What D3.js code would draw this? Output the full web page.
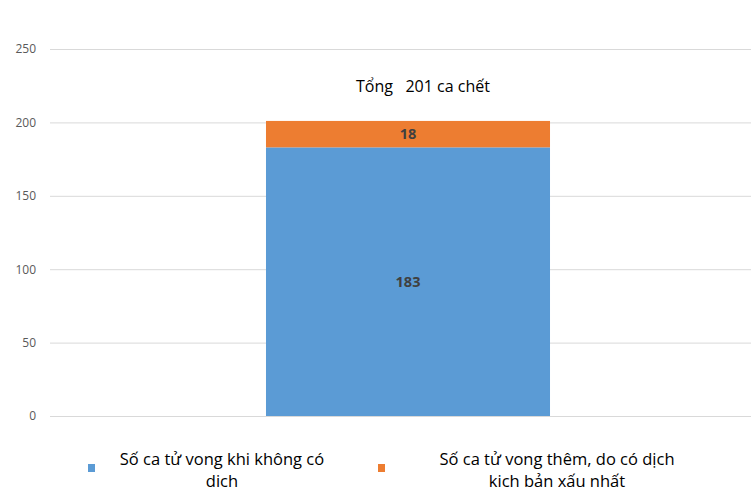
<!DOCTYPE html>
<html>
<head>
<meta charset="utf-8">
<script src="https://cdn.jsdelivr.net/npm/d3@7"></script>
<style>
  body { margin: 0; background: #fff; }
  svg text { font-family: "Open Sans", "Noto Sans", sans-serif; }
</style>
</head>
<body>
<div id="svg_div"></div>
<script>
// Chart data
var categories = ["Tổng"];
var baseDeaths = [183];
var extraDeaths = [18];
var yTicks = [0, 50, 100, 150, 200, 250];
var seriesNames = [["Số ca tử vong khi không có", "dich"], ["Số ca tử vong thêm, do có dịch", "kich bản xấu nhất"]];
var colors = ["#5B9BD5", "#ED7D31"];

var svg = d3.select("#svg_div").append("svg").attr("width", 751).attr("height", 491);

// Scales
var yScale = d3.scaleLinear().domain([0, 250]).range([416, 49]);
var xScale = d3.scaleBand().domain(categories).range([65, 751]).padding(0.4144);

// Gridlines and tick labels
var yAxis = d3.axisLeft(yScale).tickValues(yTicks).tickSize(-701).tickPadding(14);
var yAxisG = svg.append("g").attr("transform", "translate(50,0)").call(yAxis);
yAxisG.select(".domain").remove();
yAxisG.selectAll("line").attr("stroke", "#d9d9d9");
yAxisG.selectAll("text").attr("fill", "#595959").style("font-size", "12px");

// Stack the two series
var rows = categories.map(function(c, i) { return {cat: c, base: baseDeaths[i], extra: extraDeaths[i]}; });
var stack = d3.stack().keys(["base", "extra"])(rows);

var layers = svg.selectAll(".layer").data(stack).enter().append("g")
    .attr("fill", function(d, i) { return colors[i]; });

layers.selectAll("rect").data(function(d) { return d; }).enter().append("rect")
    .attr("x", function(d) { return xScale(d.data.cat); })
    .attr("width", xScale.bandwidth())
    .attr("y", function(d) { return yScale(d[1]); })
    .attr("height", function(d) { return yScale(d[0]) - yScale(d[1]); });

// Value labels
layers.selectAll("text").data(function(d) { return d; }).enter().append("text")
    .attr("x", function(d) { return xScale(d.data.cat) + xScale.bandwidth() / 2; })
    .attr("y", function(d) { return (yScale(d[0]) + yScale(d[1])) / 2; })
    .attr("dy", "0.35em")
    .attr("text-anchor", "middle")
    .attr("fill", "#404040")
    .style("font-size", "14.5px")
    .style("font-weight", "bold")
    .text(function(d) { return d[1] - d[0]; });

// Total label, a little right of the bar centre as in the original
var total = baseDeaths[0] + extraDeaths[0];
svg.append("text")
    .attr("x", xScale(categories[0]) + xScale.bandwidth() / 2 + 15)
    .attr("y", 92)
    .attr("text-anchor", "middle")
    .attr("fill", "#000")
    .style("font-size", "16px")
    .style("white-space", "pre")
    .text(categories[0] + "   " + total + " ca chết");

// Legend
var legendX = [222, 557];
var legendSwatch = [88, 378];
seriesNames.forEach(function(lines, i) {
    svg.append("rect")
        .attr("x", legendSwatch[i]).attr("y", 464)
        .attr("width", 7).attr("height", 8)
        .attr("fill", colors[i]);
    var t = svg.append("text")
        .attr("text-anchor", "middle")
        .attr("fill", "#000")
        .style("font-size", "16.5px");
    lines.forEach(function(line, j) {
        t.append("tspan").attr("x", legendX[i]).attr("y", 465 + j * 22).text(line);
    });
});
</script>
</body>
</html>
